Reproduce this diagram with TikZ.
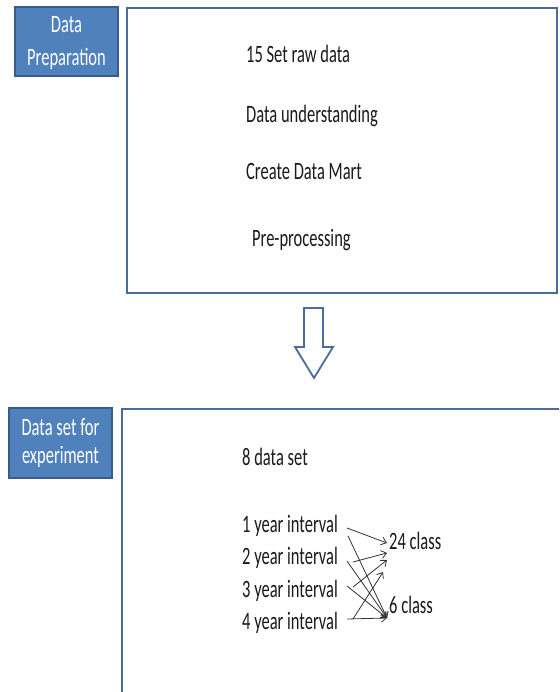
\documentclass[tikz,border=0pt]{standalone}
\usepackage{fontspec}
\setmainfont{Carlito}[FakeStretch=0.66]
\usetikzlibrary{arrows.meta}
\definecolor{lblfill}{HTML}{4F81BD}
\definecolor{lbldraw}{HTML}{385D8A}
\definecolor{boxdraw}{HTML}{4A6C9B}
\definecolor{txt}{HTML}{1A1A1A}
\tikzset{
  lbl/.style={draw=lbldraw, line width=1.5pt, fill=lblfill, text=white, align=center, inner sep=0pt, font=\fontsize{25}{33}\selectfont},
  bigbox/.style={draw=boxdraw, line width=2pt},
  item/.style={anchor=base west, inner sep=0pt, text=txt, font=\fontsize{25}{30}\selectfont},
  conn/.style={draw=black!80, line width=0.8pt, -{Straight Barb[length=5pt,width=8pt]}},
  blockarrow/.style={draw=boxdraw, line width=1.8pt, fill=white, line join=miter}
}
\begin{document}
\begin{tikzpicture}[x=1pt,y=-1pt]
\clip (0,0) rectangle (559,692);
\fill[white] (0,0) rectangle (559,692);
% top section
\draw[lbl] (15,7) rectangle (118,76);
\node[lbl, draw=none, fill=none] (lab1) at (66.5,43) {Data\\Preparation};
\draw[bigbox] (127,8) rectangle (557,293);
\node[item] (t1) at (246,63) {15 Set raw data};
\node[item] (t2) at (246,123) {Data understanding};
\node[item] (t3) at (246,180) {Create Data Mart};
\node[item] (t4) at (252,247) {Pre-processing};
% block arrow
\draw[blockarrow] (304,308) -- (323,308) -- (323,347) -- (333,347) -- (314,378) -- (295,347) -- (304,347) -- cycle;
% bottom section
\draw[lbl] (9,408) rectangle (112,478);
\node[lbl, draw=none, fill=none, font=\fontsize{25}{28}\selectfont] (lab2) at (60.5,443) {Data set for\\experiment};
\draw[bigbox] (122,409) rectangle (640,760);
\node[item] (ds) at (242,465) {8 data set};
\node[item] (y1) at (242,532) {1 year interval};
\node[item] (y2) at (242,564) {2 year interval};
\node[item] (y3) at (242,597) {3 year interval};
\node[item] (y4) at (242,629) {4 year interval};
\node[item] (c24) at (389,549) {24 class};
\node[item] (c6) at (389,613) {6 class};
% connector ends
\coordinate (a1) at (347,528);
\coordinate (b1) at (348,536);
\coordinate (a2) at (353,562);
\coordinate (b2) at (347,561);
\coordinate (a3) at (353,587);
\coordinate (b3) at (347,586);
\coordinate (a4) at (353,619);
\coordinate (b4) at (347,619);
\coordinate (e1) at (387,543);
\coordinate (e2) at (387,553);
\coordinate (e3) at (387,560);
\coordinate (e4) at (383,572);
\coordinate (f6) at (387,618);
\draw[conn] (a1) -- (e1);
\draw[conn] (a2) -- (e2);
\draw[conn] (a3) -- (e3);
\draw[conn] (a4) -- (e4);
\draw[conn] (b1) -- (f6);
\draw[conn] (b2) -- (f6);
\draw[conn] (b3) -- (f6);
\draw[conn] (b4) -- (f6);
\end{tikzpicture}
\end{document}
